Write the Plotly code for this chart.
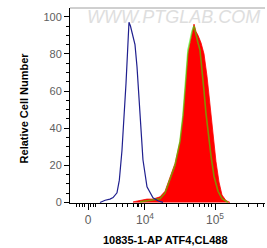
import plotly.graph_objects as go

# Fluorescence intensity (CL488 channel) and relative cell number
blue_x = [2275, 2700, 3162, 3500, 3981, 4300, 4690, 5050, 5354, 5650, 5907, 6200, 6520, 6850, 7197, 7691, 8100, 8483, 9354, 10680, 13010, 15500, 18070]
blue_y = [0, 1.2, 1.8, 2.6, 5.2, 12, 28, 46, 64, 82, 97, 95, 92, 88, 85, 73, 58, 46, 23, 8.4, 2.5, 0.8, 0]

red_x = [6745, 8483, 10680, 13010, 16380, 19310, 22760, 26830, 31620, 34900, 38540, 41140, 43200, 45410, 48530, 50120, 53540, 57150, 63100, 69660, 76880, 84830, 93540, 103300, 114000, 125900, 143600, 163700]
red_y = [0.3, 1.2, 1.8, 1.8, 3, 6, 13, 21, 33, 46, 66, 80, 84, 88, 93, 96, 92, 90, 86, 80, 68, 52, 37, 22, 11, 4, 1, 0]

green_x = [8483, 11800, 13900, 16380, 19310, 22760, 26830, 31620, 34900, 38540, 41140, 43940, 46900, 50120, 53540, 57150, 61050, 65160, 69660, 74300, 79430, 87720, 96850, 110400, 125900, 153500]
green_y = [0.3, 1, 1.3, 2, 5, 12, 20, 33, 47, 68, 82, 87, 92, 95, 90, 86, 82, 72, 60, 48, 38, 25, 14, 6, 2, 0]

x_tickvals = [1535, 1e4, 1e5]
x_ticktext = ["0", "10<sup>4</sup>", "10<sup>5</sup>"]
x_minor = [1035, 1150, 1260, 1380, 1660, 1820, 1995, 2860, 3980, 4850, 5710, 6745, 7690, 8200, 9060,
           2e4, 3e4, 4e4, 5e4, 6e4, 7e4, 8e4, 9e4, 2e5, 3e5, 4e5, 5e5]
y_tickvals = [0, 20, 40, 60, 80, 100]

fig = go.Figure()
fig.add_trace(go.Scatter(x=red_x, y=red_y, mode="lines", fill="tozeroy",
                         fillcolor="#ff0000", line=dict(color="#ff0000", width=0.8),
                         hoverinfo="skip"))
fig.add_trace(go.Scatter(x=green_x, y=green_y, mode="lines",
                         line=dict(color="rgba(60,230,0,0.62)", width=1.6),
                         hoverinfo="skip"))
fig.add_trace(go.Scatter(x=blue_x, y=blue_y, mode="lines",
                         line=dict(color="#20208f", width=1.2),
                         hoverinfo="skip"))

tick_font = dict(family="Liberation Sans, Arial, sans-serif", size=11, color="#606060")
fig.update_layout(
    width=267, height=248,
    margin=dict(l=70, r=2, t=8, b=45),
    paper_bgcolor="white", plot_bgcolor="white",
    showlegend=False,
    xaxis=dict(type="log", range=[2.929, 5.714], showgrid=False, zeroline=False,
               showline=True, linecolor="black", linewidth=1,
               tickmode="array", tickvals=x_tickvals, ticktext=x_ticktext,
               ticks="outside", ticklen=6, tickcolor="black", tickwidth=1,
               tickfont=dict(family="Liberation Sans, Arial, sans-serif", size=12, color="#606060"),
               minor=dict(tickmode="array", tickvals=x_minor, ticks="outside",
                          ticklen=3, tickcolor="black", tickwidth=1, showgrid=False)),
    yaxis=dict(range=[-0.3, 104.7], showgrid=False, zeroline=False,
               showline=True, linecolor="black", linewidth=1,
               tickmode="array", tickvals=y_tickvals,
               ticks="outside", ticklen=5, tickcolor="black", tickwidth=1,
               tickfont=tick_font,
               minor=dict(dtick=5, ticks="outside", ticklen=3, tickcolor="black",
                          tickwidth=1, showgrid=False)),
    shapes=[dict(type="line", xref="paper", yref="paper", x0=0, x1=1, y0=1, y1=1,
                 line=dict(color="#a0a0a0", width=1))],
    annotations=[
        dict(text="WWW.PTGLAB.COM", xref="paper", yref="paper", x=0.53, y=0.955,
             xanchor="center", yanchor="middle", showarrow=False,
             font=dict(family="Liberation Sans, Arial, sans-serif", size=18,
                       color="#dedede", style="italic")),
        dict(text="<b>10835-1-AP ATF4,CL488</b>", xref="paper", yref="paper",
             x=0.49, y=-0.19, xanchor="center", yanchor="middle", showarrow=False,
             font=dict(family="Liberation Sans, Arial, sans-serif", size=11, color="black")),
        dict(text="<b>Relative Cell Number</b>", xref="paper", yref="paper",
             x=-0.236, y=0.49, xanchor="center", yanchor="middle", showarrow=False,
             textangle=-90,
             font=dict(family="Liberation Sans, Arial, sans-serif", size=11, color="black")),
    ],
)

fig.write_html("out.html", config={"displayModeBar": False},
               post_script="document.body.style.margin='0';document.body.style.padding='0';")
